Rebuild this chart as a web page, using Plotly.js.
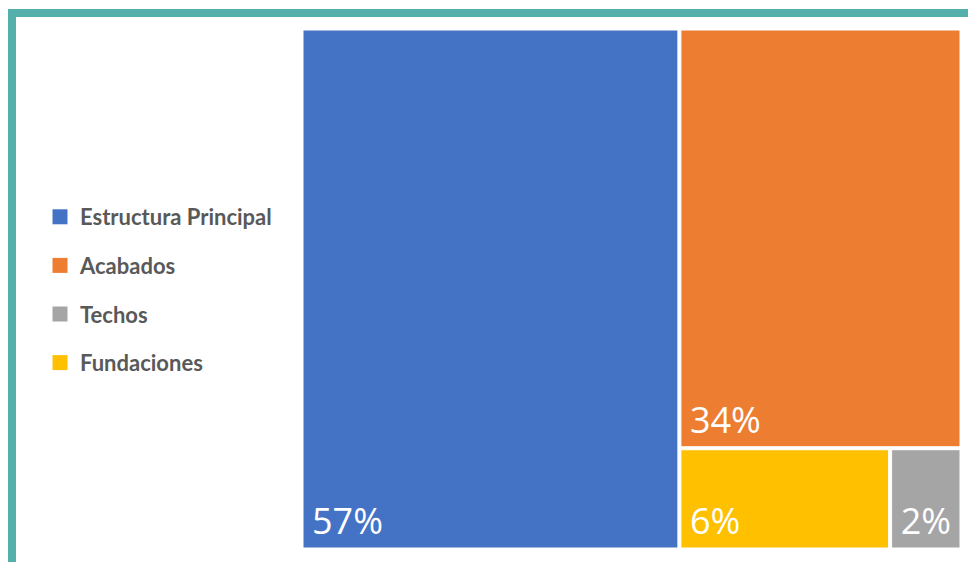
<!DOCTYPE html>
<html>
<head>
<meta charset="utf-8">
<script src="https://cdn.plot.ly/plotly-3.0.1.min.js"></script>
<style>
  html, body { margin: 0; padding: 0; background: #ffffff; }
  #chart { width: 968px; height: 562px; }
</style>
</head>
<body>
<div id="chart"></div>
<script>
// Data (shares estimated from tile areas; labels show rounded percentages)
const categories = ["Estructura Principal", "Acabados", "Techos", "Fundaciones"];
const shares = [57.2, 34.4, 2.1, 6.2];   // percent of total
const colors = ["#4472C4", "#ED7D31", "#A5A5A5", "#FFC000"];

const W = 968, H = 562;

const treemap = {
  type: "treemap",
  labels: categories,
  parents: categories.map(() => ""),
  values: shares,
  sort: true,
  texttemplate: "\u2006%{value:.0f}%",
  textposition: "bottom left",
  textfont: { family: "Open Sans, sans-serif", size: 36, color: "#ffffff" },
  marker: {
    colors: colors,
    line: { width: 1, color: "#ffffff" },
    pad: { t: 0, l: 0, r: 0, b: 0 }
  },
  tiling: { packing: "squarify", squarifyratio: 1, pad: 3 },
  pathbar: { visible: false },
  hoverinfo: "label+value",
  domain: { x: [303 / W, 960 / W], y: [1 - 548 / H, 1 - 30 / H] },
  showlegend: false
};

const legendTraces = categories.map((name, i) => ({
  type: "scatter",
  mode: "markers",
  x: [null], y: [null],
  name: name,
  legendgroup: "g" + i,
  marker: { symbol: "square", size: 15, color: colors[i], line: { width: 0 } },
  showlegend: true,
  hoverinfo: "skip"
}));

const layout = {
  width: W, height: H,
  margin: { l: 0, r: 0, t: 0, b: 0 },
  paper_bgcolor: "#ffffff",
  plot_bgcolor: "#ffffff",
  xaxis: { visible: false, domain: [0, 0.01] },
  yaxis: { visible: false, domain: [0, 0.01] },
  showlegend: true,
  legend: {
    x: 40 / W, xanchor: "left",
    y: 1 - 290 / H, yanchor: "middle",
    traceorder: "grouped",
    tracegroupgap: 17,
    itemsizing: "trace",
    bgcolor: "rgba(0,0,0,0)",
    font: { family: "Lato, sans-serif", size: 22, weight: "bold", color: "#595959" }
  },
  shapes: [{
    type: "rect", xref: "paper", yref: "paper",
    x0: 12 / W, y0: 1 - 13 / H, x1: 1.3, y1: -0.3,
    line: { color: "#55AFAA", width: 8 },
    fillcolor: "rgba(0,0,0,0)",
    layer: "below"
  }],
  hovermode: false
};

Plotly.newPlot("chart", [treemap].concat(legendTraces), layout, { displayModeBar: false, staticPlot: true });
</script>
</body>
</html>
